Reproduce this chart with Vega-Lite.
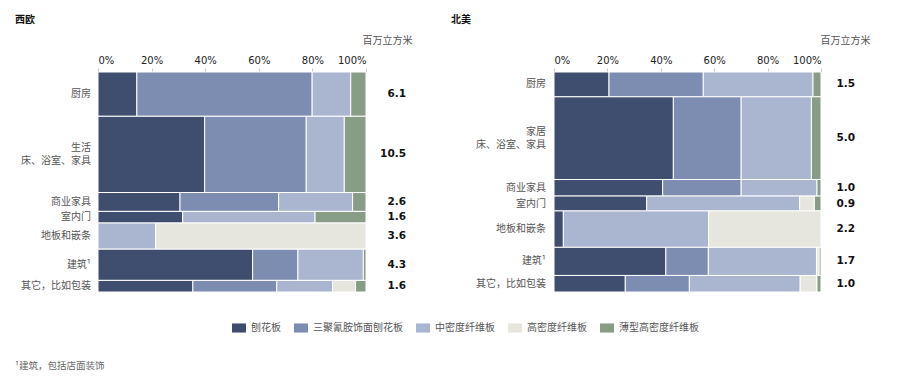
{
  "$schema": "https://vega.github.io/schema/vega-lite/v6.json",
  "padding": {"left": 15, "top": 15, "right": 5, "bottom": 5},
  "bounds": "flush",
  "spacing": 188,
  "title": {"text": "¹建筑，包括店面装饰", "orient": "bottom", "anchor": "start", "frame": "bounds", "font": "Noto Sans CJK SC", "fontSize": 9.5, "fontWeight": "normal", "color": "#666", "offset": 28},
  "config": {
    "view": {"stroke": null},
    "axis": {"labelFont": "DejaVu Sans", "labelFontSize": 10, "labelColor": "#222", "domain": false, "grid": false, "tickColor": "#ccc", "tickSize": 4, "labelPadding": 3, "titleFont": "Noto Sans CJK SC", "titleFontSize": 10, "titleFontWeight": "normal", "titleColor": "#555"},
    "title": {"font": "Noto Sans CJK SC", "fontSize": 10, "fontWeight": "bold", "color": "#111", "anchor": "start"},
    "legend": {"orient": "none", "legendX": 134, "legendY": 249, "direction": "horizontal", "title": null, "labelFont": "Noto Sans CJK SC", "labelFontSize": 10, "labelColor": "#555", "symbolType": "M-1,-0.65H1V0.65H-1Z", "symbolSize": 196, "symbolStrokeWidth": 0, "symbolOpacity": 1, "columnPadding": 13, "labelOffset": 5}
  },
  "hconcat": [
    {
      "width": 268,
      "height": 220,
      "title": {"text": "西欧", "frame": "group", "dx": -83, "offset": 10},
      "data": {"values": [
        {"order": 1, "category": "厨房", "volume": 6.1, "刨花板": 14.5, "三聚氰胺饰面刨花板": 65.4, "中密度纤维板": 14.4, "高密度纤维板": 0, "薄型高密度纤维板": 5.7},
        {"order": 2, "category": "生活\n床、浴室、家具", "volume": 10.5, "刨花板": 39.8, "三聚氰胺饰面刨花板": 37.9, "中密度纤维板": 14.2, "高密度纤维板": 0, "薄型高密度纤维板": 8.1},
        {"order": 3, "category": "商业家具", "volume": 2.6, "刨花板": 30.6, "三聚氰胺饰面刨花板": 36.8, "中密度纤维板": 27.6, "高密度纤维板": 0, "薄型高密度纤维板": 5.0},
        {"order": 4, "category": "室内门", "volume": 1.6, "刨花板": 31.6, "三聚氰胺饰面刨花板": 0, "中密度纤维板": 49.4, "高密度纤维板": 0, "薄型高密度纤维板": 19.0},
        {"order": 5, "category": "地板和嵌条", "volume": 3.6, "刨花板": 0, "三聚氰胺饰面刨花板": 0, "中密度纤维板": 21.5, "高密度纤维板": 78.5, "薄型高密度纤维板": 0},
        {"order": 6, "category": "建筑¹", "volume": 4.3, "刨花板": 57.7, "三聚氰胺饰面刨花板": 16.9, "中密度纤维板": 24.4, "高密度纤维板": 0, "薄型高密度纤维板": 1.0},
        {"order": 7, "category": "其它，比如包装", "volume": 1.6, "刨花板": 35.4, "三聚氰胺饰面刨花板": 31.3, "中密度纤维板": 20.8, "高密度纤维板": 8.6, "薄型高密度纤维板": 3.9}
      ]},
      "transform": [{"stack": "volume", "groupby": [], "sort": [{"field": "order", "order": "ascending"}], "as": ["y0", "y1"]}],
      "layer": [
        {
          "transform": [
            {"fold": ["刨花板", "三聚氰胺饰面刨花板", "中密度纤维板", "高密度纤维板", "薄型高密度纤维板"], "as": ["material", "share"]},
            {"stack": "share", "groupby": ["category"], "offset": "normalize", "as": ["x0", "x1"]},
            {"filter": "datum.share > 0"}
          ],
          "mark": {"type": "rect", "stroke": "#fff", "strokeWidth": 1},
          "encoding": {
            "x": {"field": "x0", "type": "quantitative", "scale": {"domain": [0, 1], "nice": false}, "axis": {"orient": "top", "format": ".0%", "values": [0, 0.2, 0.4, 0.6, 0.8, 1], "title": "百万立方米", "titleX": 264, "titleY": -32, "titleAlign": "left", "titleBaseline": "middle"}},
            "x2": {"field": "x1"},
            "y": {"field": "y0", "type": "quantitative", "scale": {"reverse": true, "nice": false, "zero": true}, "axis": null},
            "y2": {"field": "y1"},
            "color": {"field": "material", "type": "nominal", "scale": {"domain": ["刨花板", "三聚氰胺饰面刨花板", "中密度纤维板", "高密度纤维板", "薄型高密度纤维板"], "range": ["#3f4d6e", "#7d8cb1", "#aab5d0", "#e7e6de", "#889d85"]}}
          }
        },
        {
          "transform": [{"filter": "indexof(datum.category, '\\n') < 0"}, {"fold": ["y0", "y1"], "as": ["k", "yv"]}],
          "mark": {"type": "text", "align": "right", "baseline": "middle", "dx": -7, "font": "Noto Sans CJK SC", "fontSize": 10, "color": "#555"},
          "encoding": {
            "x": {"datum": 0, "type": "quantitative"},
            "y": {"field": "yv", "aggregate": "mean", "type": "quantitative"},
            "text": {"field": "category"}
          }
        },
        {
          "transform": [{"filter": "indexof(datum.category, '\\n') >= 0"}, {"fold": ["y0", "y1"], "as": ["k", "yv"]}],
          "mark": {"type": "text", "align": "right", "baseline": "middle", "dx": -7, "dy": -6, "font": "Noto Sans CJK SC", "fontSize": 10, "color": "#555", "lineBreak": "\n", "lineHeight": 12.5},
          "encoding": {
            "x": {"datum": 0, "type": "quantitative"},
            "y": {"field": "yv", "aggregate": "mean", "type": "quantitative"},
            "text": {"field": "category"}
          }
        },
        {
          "transform": [{"fold": ["y0", "y1"], "as": ["k", "yv"]}],
          "mark": {"type": "text", "align": "right", "baseline": "middle", "dx": 40, "font": "DejaVu Sans", "fontSize": 10.5, "fontWeight": "bold", "color": "#111"},
          "encoding": {
            "x": {"datum": 1, "type": "quantitative"},
            "y": {"field": "yv", "aggregate": "mean", "type": "quantitative"},
            "detail": {"field": "category"},
            "text": {"field": "volume", "type": "quantitative", "format": ".1f"}
          }
        }
      ]
    },
    {
      "width": 267,
      "height": 220,
      "title": {"text": "北美", "frame": "group", "dx": -103, "offset": 10},
      "data": {"values": [
        {"order": 1, "category": "厨房", "volume": 1.5, "刨花板": 20.6, "三聚氰胺饰面刨花板": 35.3, "中密度纤维板": 41.1, "高密度纤维板": 0, "薄型高密度纤维板": 3.0},
        {"order": 2, "category": "家居\n床、浴室、家具", "volume": 5.0, "刨花板": 44.7, "三聚氰胺饰面刨花板": 25.4, "中密度纤维板": 26.3, "高密度纤维板": 0, "薄型高密度纤维板": 3.6},
        {"order": 3, "category": "商业家具", "volume": 1.0, "刨花板": 40.7, "三聚氰胺饰面刨花板": 29.4, "中密度纤维板": 28.4, "高密度纤维板": 0, "薄型高密度纤维板": 1.5},
        {"order": 4, "category": "室内门", "volume": 0.9, "刨花板": 34.7, "三聚氰胺饰面刨花板": 0, "中密度纤维板": 57.3, "高密度纤维板": 5.5, "薄型高密度纤维板": 2.5},
        {"order": 5, "category": "地板和嵌条", "volume": 2.2, "刨花板": 3.5, "三聚氰胺饰面刨花板": 0, "中密度纤维板": 54.4, "高密度纤维板": 42.1, "薄型高密度纤维板": 0},
        {"order": 6, "category": "建筑¹", "volume": 1.7, "刨花板": 41.9, "三聚氰胺饰面刨花板": 15.9, "中密度纤维板": 40.5, "高密度纤维板": 1.0, "薄型高密度纤维板": 0.7},
        {"order": 7, "category": "其它，比如包装", "volume": 1.0, "刨花板": 26.7, "三聚氰胺饰面刨花板": 24.0, "中密度纤维板": 41.5, "高密度纤维板": 6.3, "薄型高密度纤维板": 1.5}
      ]},
      "transform": [{"stack": "volume", "groupby": [], "sort": [{"field": "order", "order": "ascending"}], "as": ["y0", "y1"]}],
      "layer": [
        {
          "transform": [
            {"fold": ["刨花板", "三聚氰胺饰面刨花板", "中密度纤维板", "高密度纤维板", "薄型高密度纤维板"], "as": ["material", "share"]},
            {"stack": "share", "groupby": ["category"], "offset": "normalize", "as": ["x0", "x1"]},
            {"filter": "datum.share > 0"}
          ],
          "mark": {"type": "rect", "stroke": "#fff", "strokeWidth": 1},
          "encoding": {
            "x": {"field": "x0", "type": "quantitative", "scale": {"domain": [0, 1], "nice": false}, "axis": {"orient": "top", "format": ".0%", "values": [0, 0.2, 0.4, 0.6, 0.8, 1], "title": "百万立方米", "titleX": 266, "titleY": -32, "titleAlign": "left", "titleBaseline": "middle"}},
            "x2": {"field": "x1"},
            "y": {"field": "y0", "type": "quantitative", "scale": {"reverse": true, "nice": false, "zero": true}, "axis": null},
            "y2": {"field": "y1"},
            "color": {"field": "material", "type": "nominal", "scale": {"domain": ["刨花板", "三聚氰胺饰面刨花板", "中密度纤维板", "高密度纤维板", "薄型高密度纤维板"], "range": ["#3f4d6e", "#7d8cb1", "#aab5d0", "#e7e6de", "#889d85"]}}
          }
        },
        {
          "transform": [{"filter": "indexof(datum.category, '\\n') < 0"}, {"fold": ["y0", "y1"], "as": ["k", "yv"]}],
          "mark": {"type": "text", "align": "right", "baseline": "middle", "dx": -8, "font": "Noto Sans CJK SC", "fontSize": 10, "color": "#555"},
          "encoding": {
            "x": {"datum": 0, "type": "quantitative"},
            "y": {"field": "yv", "aggregate": "mean", "type": "quantitative"},
            "text": {"field": "category"}
          }
        },
        {
          "transform": [{"filter": "indexof(datum.category, '\\n') >= 0"}, {"fold": ["y0", "y1"], "as": ["k", "yv"]}],
          "mark": {"type": "text", "align": "right", "baseline": "middle", "dx": -8, "dy": -6, "font": "Noto Sans CJK SC", "fontSize": 10, "color": "#555", "lineBreak": "\n", "lineHeight": 12.5},
          "encoding": {
            "x": {"datum": 0, "type": "quantitative"},
            "y": {"field": "yv", "aggregate": "mean", "type": "quantitative"},
            "text": {"field": "category"}
          }
        },
        {
          "transform": [{"fold": ["y0", "y1"], "as": ["k", "yv"]}],
          "mark": {"type": "text", "align": "right", "baseline": "middle", "dx": 34, "font": "DejaVu Sans", "fontSize": 10.5, "fontWeight": "bold", "color": "#111"},
          "encoding": {
            "x": {"datum": 1, "type": "quantitative"},
            "y": {"field": "yv", "aggregate": "mean", "type": "quantitative"},
            "detail": {"field": "category"},
            "text": {"field": "volume", "type": "quantitative", "format": ".1f"}
          }
        }
      ]
    }
  ]
}
